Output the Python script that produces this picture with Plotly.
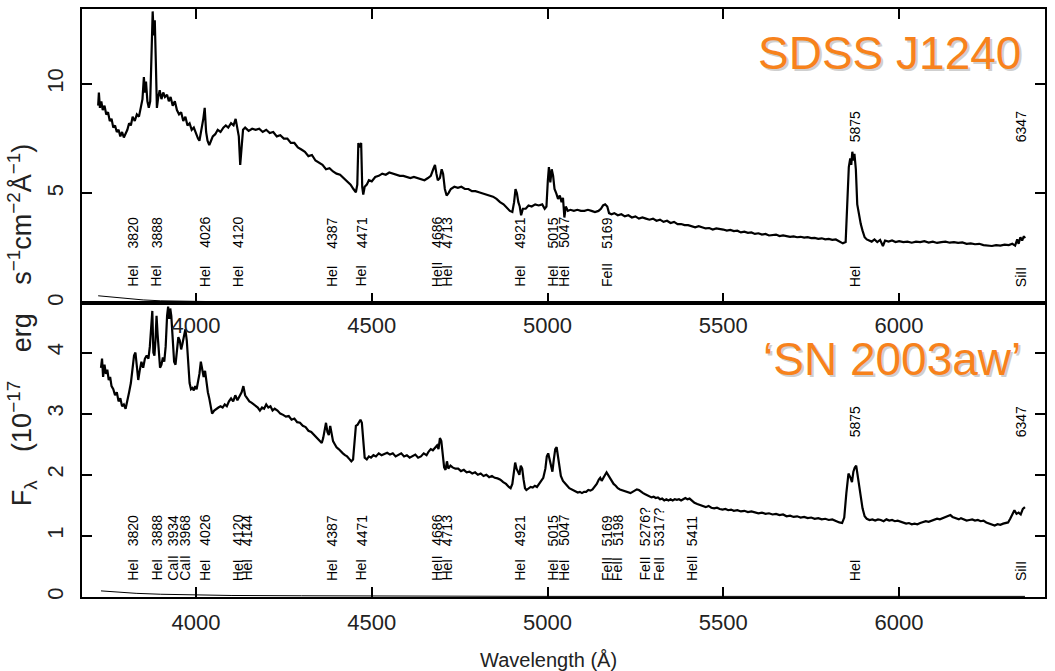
import plotly.graph_objects as go

# ---------------- SDSS J1240 spectrum (upper panel) ----------------
wl_j1240 = [
    3722, 3724, 3727, 3731, 3735, 3740, 3745, 3750, 3755, 3760, 3765, 3770, 3775, 3780, 3785, 3790,
    3795, 3800, 3805, 3810, 3815, 3820, 3826, 3832, 3838, 3843, 3848, 3852, 3855, 3858, 3862, 3866,
    3870, 3874, 3877, 3880, 3883, 3886, 3889, 3893, 3897, 3902, 3907, 3912, 3918, 3923, 3928, 3934,
    3940, 3946, 3952, 3958, 3964, 3970, 3976, 3982, 3988, 3994, 4000, 4006, 4010, 4016, 4021, 4025,
    4029, 4033, 4038, 4043, 4048, 4055, 4062, 4070, 4078, 4085, 4092, 4100, 4107, 4113, 4118, 4122,
    4126, 4130, 4134, 4140, 4150, 4160, 4170, 4180, 4190, 4200, 4210, 4220, 4230, 4240, 4250, 4260,
    4270, 4280, 4290, 4300, 4310, 4320, 4330, 4340, 4350, 4360, 4370, 4380, 4390, 4400, 4410, 4420,
    4430, 4440, 4448, 4455, 4459, 4462, 4466, 4470, 4473, 4476, 4480, 4486, 4492, 4500, 4510, 4520,
    4530, 4540, 4550, 4560, 4570, 4580, 4590, 4600, 4610, 4620, 4630, 4640, 4650, 4660, 4668, 4675,
    4680, 4684, 4688, 4694, 4699, 4703, 4708, 4713, 4718, 4725, 4735, 4745, 4755, 4765, 4775, 4785,
    4795, 4805, 4815, 4825, 4835, 4845, 4855, 4865, 4875, 4885, 4893, 4900, 4905, 4909, 4913, 4917,
    4921, 4925, 4930, 4938, 4946, 4955, 4965, 4975, 4985, 4992, 4997, 5001, 5004, 5008, 5012, 5016,
    5020, 5025, 5030, 5035, 5040, 5044, 5048, 5052, 5058, 5065, 5075, 5085, 5095, 5105, 5115, 5125,
    5135, 5145, 5152, 5158, 5164, 5170, 5175, 5182, 5190, 5200, 5210, 5220, 5230, 5240, 5250, 5260,
    5270, 5280, 5290, 5300, 5310, 5320, 5330, 5340, 5350, 5360, 5370, 5380, 5390, 5400, 5410, 5420,
    5430, 5440, 5450, 5460, 5470, 5480, 5490, 5500, 5510, 5520, 5530, 5540, 5550, 5560, 5570, 5580,
    5590, 5600, 5610, 5620, 5630, 5640, 5650, 5660, 5670, 5680, 5690, 5700, 5710, 5720, 5730, 5740,
    5750, 5760, 5770, 5780, 5790, 5800, 5810, 5820, 5830, 5840, 5848, 5853, 5857, 5861, 5864, 5867,
    5870, 5873, 5877, 5881, 5886, 5891, 5896, 5902, 5908, 5915, 5922, 5930, 5938, 5946, 5954, 5960,
    5970, 5980, 5990, 6000, 6012, 6024, 6036, 6048, 6060, 6072, 6084, 6096, 6108, 6120, 6132, 6144,
    6156, 6168, 6180, 6192, 6204, 6216, 6228, 6240, 6252, 6264, 6276, 6288, 6300, 6312, 6322, 6330,
    6336, 6340, 6345, 6350, 6355, 6358,
]
flux_j1240 = [
    9.0, 9.6, 8.9, 9.2, 8.8, 9.0, 8.6, 8.7, 8.3, 8.4, 8.0, 8.1, 7.8, 7.9, 7.6, 7.8,
    7.55, 7.7, 7.9, 8.2, 8.1, 8.5, 8.3, 8.6, 8.5, 8.9, 9.3, 10.3, 9.6, 10.1, 9.2, 8.9,
    9.2, 11.5, 13.3, 12.2, 12.9, 11.0, 8.9, 9.4, 9.7, 9.3, 9.6, 9.4, 9.5, 9.2, 9.4, 9.0,
    9.2, 8.8, 8.6, 8.7, 8.3, 8.5, 8.1, 8.2, 7.9, 8.0, 7.7, 7.5, 7.4, 7.9, 8.4, 8.9,
    7.8, 7.4, 7.2, 7.4, 7.6, 7.7, 7.9, 7.8, 8.0, 8.1, 8.0, 8.2, 8.1, 8.4, 8.0, 7.6,
    6.3, 7.2, 7.9, 8.0, 7.85, 7.95, 7.9, 7.95, 7.8, 7.9, 7.75, 7.8, 7.6, 7.65, 7.5, 7.5,
    7.3, 7.3, 7.1, 7.0, 6.9, 6.7, 6.75, 6.5, 6.4, 6.3, 6.1, 6.15, 6.0, 5.9, 5.85, 5.7,
    5.55, 5.4, 5.2, 5.05, 5.4, 7.3, 7.1, 7.3, 5.3, 4.95, 5.3, 5.4, 5.6, 5.55, 5.75, 5.8,
    5.9, 5.85, 5.95, 5.9, 5.85, 5.8, 5.8, 5.75, 5.7, 5.75, 5.7, 5.65, 5.6, 5.7, 5.8, 6.1,
    6.3, 5.9, 5.6, 5.7, 6.1, 5.9, 5.2, 4.9, 5.0, 5.2, 5.3, 5.25, 5.3, 5.2, 5.2, 5.1,
    5.1, 5.05, 5.0, 4.95, 4.9, 4.85, 4.75, 4.6, 4.5, 4.35, 4.2, 4.15, 4.6, 5.2, 5.0, 4.6,
    4.4, 4.0, 4.3, 4.3, 4.45, 4.4, 4.5, 4.45, 4.5, 4.3, 4.4, 5.6, 6.2, 5.5, 6.1, 5.8,
    5.2, 5.0, 4.75, 4.9, 4.6, 4.8, 3.9, 4.4, 4.2, 4.25, 4.2, 4.25, 4.2, 4.2, 4.25, 4.2,
    4.15, 4.2, 4.3, 4.45, 4.5, 4.4, 4.1, 4.05, 4.1, 4.0, 4.05, 3.95, 4.0, 3.9, 3.95, 3.85,
    3.9, 3.85, 3.8, 3.85, 3.75, 3.8, 3.7, 3.75, 3.65, 3.7, 3.6, 3.6, 3.55, 3.55, 3.5, 3.45,
    3.5, 3.45, 3.4, 3.42, 3.35, 3.4, 3.38, 3.35, 3.3, 3.33, 3.28, 3.3, 3.22, 3.25, 3.2, 3.22,
    3.15, 3.18, 3.12, 3.15, 3.08, 3.1, 3.12, 3.05, 3.08, 3.05, 3.02, 3.04, 3.0, 3.02, 2.98, 3.0,
    2.96, 2.97, 2.93, 2.95, 2.9, 2.92, 2.88, 2.9, 2.8, 2.72, 2.78, 4.5, 6.2, 6.6, 6.3, 6.9,
    6.5, 6.8, 6.1, 4.5, 4.0, 3.6, 3.3, 3.0, 2.9, 2.85, 2.8, 2.9, 2.78, 2.88, 2.6, 2.85,
    2.8, 2.85, 2.78, 2.82, 2.78, 2.8, 2.75, 2.8, 2.78, 2.82, 2.76, 2.8, 2.74, 2.78, 2.8, 2.75,
    2.78, 2.74, 2.76, 2.7, 2.72, 2.68, 2.7, 2.64, 2.62, 2.6, 2.64, 2.62, 2.66, 2.64, 2.7, 2.62,
    2.9, 2.7, 3.0, 2.85, 3.05, 2.95,
]
err_wl_j1240 = [3722, 3760, 3800, 3850, 3900, 3950, 4000, 4100, 4300, 4500, 5000, 6358]
err_j1240 = [0.33, 0.27, 0.2, 0.14, 0.1, 0.08, 0.06, 0.05, 0.04, 0.04, 0.03, 0.03]

# ---------------- 'SN 2003aw' spectrum (lower panel) ----------------
wl_sn = [
    3730, 3733, 3736, 3740, 3744, 3748, 3752, 3756, 3760, 3765, 3770, 3775, 3780, 3785, 3790, 3795,
    3800, 3805, 3810, 3815, 3820, 3824, 3828, 3832, 3836, 3840, 3845, 3850, 3855, 3860, 3865, 3869,
    3873, 3876, 3879, 3882, 3885, 3888, 3891, 3894, 3898, 3902, 3906, 3910, 3914, 3918, 3921, 3924,
    3927, 3930, 3934, 3938, 3942, 3946, 3950, 3954, 3958, 3962, 3966, 3970, 3974, 3978, 3982, 3986,
    3990, 3994, 3998, 4002, 4006, 4010, 4014, 4018, 4022, 4026, 4030, 4034, 4038, 4042, 4046, 4052,
    4058, 4064, 4070, 4076, 4082, 4088, 4094, 4100, 4106, 4112, 4118, 4124, 4130, 4135, 4140, 4146,
    4152, 4158, 4164, 4170, 4176, 4182, 4188, 4194, 4200, 4206, 4212, 4218, 4224, 4232, 4240, 4248,
    4256, 4264, 4272, 4280, 4288, 4296, 4304, 4312, 4320, 4328, 4336, 4344, 4352, 4358, 4362, 4366,
    4370, 4374, 4378, 4382, 4386, 4390, 4395, 4400, 4406, 4412, 4418, 4424, 4430, 4436, 4442, 4447,
    4451, 4455, 4460, 4464, 4468, 4472, 4476, 4480, 4486, 4492, 4498, 4505, 4512, 4520, 4528, 4536,
    4544, 4552, 4560, 4568, 4576, 4584, 4592, 4600, 4608, 4616, 4624, 4632, 4640, 4648, 4656, 4662,
    4668, 4674, 4680, 4686, 4690, 4694, 4698, 4702, 4706, 4710, 4714, 4718, 4724, 4730, 4738, 4746,
    4754, 4762, 4770, 4778, 4786, 4794, 4802, 4810, 4818, 4826, 4834, 4842, 4850, 4858, 4866, 4874,
    4882, 4890, 4895, 4900, 4904, 4908, 4912, 4916, 4920, 4924, 4928, 4932, 4936, 4940, 4946, 4952,
    4958, 4964, 4970, 4976, 4982, 4988, 4994, 4998, 5002, 5006, 5010, 5014, 5018, 5022, 5026, 5030,
    5034, 5038, 5044, 5050, 5056, 5062, 5068, 5074, 5080, 5086, 5092, 5098, 5104, 5110, 5116, 5122,
    5128, 5134, 5140, 5146, 5150, 5154, 5158, 5164, 5168, 5172, 5176, 5182, 5188, 5194, 5200, 5206,
    5212, 5218, 5224, 5230, 5236, 5242, 5248, 5254, 5260, 5266, 5272, 5278, 5284, 5290, 5296, 5302,
    5308, 5314, 5320, 5326, 5332, 5338, 5344, 5350, 5356, 5362, 5368, 5374, 5380, 5386, 5392, 5398,
    5404, 5410, 5418, 5426, 5434, 5442, 5450, 5458, 5466, 5474, 5482, 5490, 5498, 5506, 5514, 5522,
    5530, 5540, 5550, 5560, 5570, 5580, 5590, 5600, 5610, 5620, 5630, 5640, 5650, 5660, 5670, 5680,
    5690, 5700, 5710, 5720, 5730, 5740, 5750, 5760, 5770, 5780, 5790, 5800, 5810, 5820, 5830, 5838,
    5844, 5850, 5856, 5862, 5866, 5870, 5874, 5878, 5882, 5886, 5890, 5896, 5902, 5908, 5916, 5924,
    5932, 5940, 5948, 5956, 5964, 5972, 5980, 5988, 5996, 6004, 6012, 6020, 6028, 6036, 6044, 6052,
    6060, 6068, 6076, 6084, 6092, 6100, 6108, 6116, 6124, 6132, 6140, 6146, 6152, 6158, 6164, 6170,
    6176, 6184, 6192, 6200, 6208, 6216, 6224, 6232, 6240, 6248, 6256, 6264, 6272, 6280, 6288, 6296,
    6304, 6310, 6316, 6322, 6328, 6334, 6340, 6346, 6352, 6358,
]
flux_sn = [
    3.75, 3.9, 3.6, 3.8, 3.65, 3.72, 3.55, 3.6, 3.45, 3.4, 3.3, 3.35, 3.2, 3.25, 3.12, 3.15,
    3.08, 3.2, 3.35, 3.5, 3.75, 3.95, 4.0, 3.7, 3.55, 3.7, 3.85, 3.75, 3.9, 3.95, 3.9, 4.1,
    4.55, 4.68, 4.0, 3.95, 4.2, 4.6, 4.3, 4.0, 3.75, 3.8, 3.92, 3.85, 4.1, 4.6, 4.75, 4.55,
    4.72, 4.6, 4.2, 3.85, 3.8, 4.0, 4.25, 4.2, 4.05, 4.15, 4.3, 4.38, 4.2, 3.8, 3.5, 3.4,
    3.42, 3.38, 3.45, 3.4, 3.5, 3.65, 3.85, 3.7, 3.6, 3.7, 3.5, 3.35, 3.25, 3.1, 3.0, 3.05,
    3.08, 3.1, 3.12, 3.1, 3.15, 3.12, 3.2, 3.25, 3.2, 3.3, 3.22, 3.3, 3.35, 3.45, 3.3, 3.25,
    3.2, 3.18, 3.15, 3.12, 3.1, 3.05, 3.1, 3.08, 3.15, 3.1, 3.12, 3.05, 3.08, 3.05, 3.0, 2.98,
    2.95, 2.96, 2.9, 2.92, 2.86, 2.85, 2.8, 2.78, 2.72, 2.7, 2.65, 2.6, 2.55, 2.52, 2.6, 2.75,
    2.85, 2.7, 2.65, 2.8, 2.7, 2.55, 2.5, 2.45, 2.42, 2.38, 2.35, 2.32, 2.3, 2.26, 2.22, 2.25,
    2.55, 2.8, 2.82, 2.85, 2.9, 2.85, 2.5, 2.28, 2.25, 2.3, 2.28, 2.32, 2.3, 2.35, 2.32, 2.34,
    2.36, 2.33, 2.35, 2.3, 2.32, 2.35, 2.3, 2.32, 2.28, 2.3, 2.33, 2.28, 2.3, 2.35, 2.32, 2.38,
    2.42, 2.4, 2.45, 2.48, 2.42, 2.6, 2.55, 2.35, 2.12, 2.08, 2.22, 2.1, 2.15, 2.12, 2.1, 2.1,
    2.06, 2.08, 2.04, 2.05, 2.02, 2.04, 2.0, 2.02, 1.98, 2.0, 1.96, 1.98, 1.95, 1.94, 1.92, 1.88,
    1.85, 1.8, 1.78, 1.85, 2.05, 2.2, 2.1, 2.05, 2.0, 2.15, 2.1, 1.92, 1.78, 1.75, 1.78, 1.8,
    1.79, 1.82, 1.8, 1.85, 1.88, 1.95, 2.1, 2.3, 2.35, 2.25, 2.1, 2.05, 2.25, 2.42, 2.45, 2.3,
    2.1, 1.98, 1.9, 1.85, 1.82, 1.78, 1.76, 1.74, 1.72, 1.71, 1.72, 1.7, 1.72, 1.72, 1.75, 1.74,
    1.76, 1.8, 1.85, 1.92, 1.95, 1.9, 1.95, 2.0, 2.04, 2.0, 1.95, 1.9, 1.85, 1.82, 1.78, 1.76,
    1.75, 1.73, 1.72, 1.71, 1.7, 1.72, 1.74, 1.76, 1.75, 1.72, 1.7, 1.68, 1.66, 1.65, 1.63, 1.64,
    1.62, 1.63, 1.6, 1.61, 1.58, 1.6, 1.58, 1.6, 1.58, 1.6, 1.59, 1.6, 1.58, 1.6, 1.62, 1.6,
    1.61, 1.58, 1.54, 1.52, 1.5, 1.48, 1.47, 1.49, 1.46, 1.45, 1.46, 1.44, 1.43, 1.44, 1.42, 1.43,
    1.41, 1.42, 1.4, 1.41, 1.39, 1.4, 1.38, 1.37, 1.38, 1.36, 1.37, 1.35, 1.36, 1.34, 1.35, 1.32,
    1.33, 1.31, 1.32, 1.3, 1.31, 1.29, 1.3, 1.28, 1.29, 1.27, 1.28, 1.26, 1.27, 1.24, 1.22, 1.21,
    1.3, 1.7, 2.02, 1.95, 1.88, 2.05, 2.12, 2.15, 2.0, 1.8, 1.62, 1.45, 1.32, 1.28, 1.26, 1.27,
    1.25, 1.27, 1.26, 1.24, 1.27, 1.25, 1.26, 1.24, 1.25, 1.23, 1.22, 1.2, 1.21, 1.19, 1.2, 1.19,
    1.21, 1.22, 1.24, 1.23, 1.25, 1.26, 1.28, 1.27, 1.29, 1.3, 1.32, 1.34, 1.31, 1.3, 1.28, 1.27,
    1.29, 1.27, 1.25, 1.26, 1.27, 1.25, 1.26, 1.24, 1.25, 1.22, 1.2, 1.18, 1.17, 1.19, 1.18, 1.2,
    1.21, 1.22, 1.28, 1.35, 1.42, 1.36, 1.38, 1.35, 1.44, 1.47,
]
err_wl_sn = [3730, 3780, 3830, 3900, 3980, 4100, 4300, 4500, 5000, 6358]
err_sn = [0.1, 0.08, 0.06, 0.045, 0.035, 0.025, 0.02, 0.015, 0.01, 0.01]

# ---------------- line identifications ----------------
top_line_wl = [3820, 3888, 4026, 4120, 4387, 4471, 4686, 4713, 4921, 5015, 5047, 5169]
top_line_ion = ["HeI", "HeI", "HeI", "HeI", "HeI", "HeI", "HeII", "HeI", "HeI", "HeI", "HeI", "FeII"]
top_line_txt = ["3820", "3888", "4026", "4120", "4387", "4471", "4686", "4713", "4921", "5015", "5047", "5169"]

bot_line_wl = [3820, 3888, 3934, 3968, 4026, 4120, 4144, 4387, 4471, 4686, 4713, 4921, 5015, 5047,
               5169, 5198, 5276, 5317, 5411]
bot_line_ion = ["HeI", "HeI", "CaII", "CaII", "HeI", "HeI", "HeI", "HeI", "HeI", "HeII", "HeI", "HeI",
                "HeI", "HeI", "FeII", "FeII", "FeII", "FeII", "HeII"]
bot_line_txt = ["3820", "3888", "3934", "3968", "4026", "4120", "4144", "4387", "4471", "4686", "4713",
                "4921", "5015", "5047", "5169", "5198", "5276?", "5317?", "5411"]

# lines whose wavelength is written high above the ion name
far_line_wl = [5875, 6347]
far_line_ion = ["HeI", "SiII"]
far_line_txt = ["5875", "6347"]

x_ticks = [4000, 4500, 5000, 5500, 6000]
top_y_ticks = [0, 5, 10]
bot_y_ticks = [0, 1, 2, 3, 4]

X_RANGE = [3676, 6415]
TOP_RANGE = [0, 13.41]
BOT_RANGE = [0, 4.81]

FONT = "Liberation Sans, Arial, Helvetica, sans-serif"
ORANGE = "#F7821C"

fig = go.Figure()
fig.add_trace(go.Scatter(x=wl_j1240, y=flux_j1240, xaxis="x2", yaxis="y2", mode="lines",
                         line=dict(color="black", width=2.2), showlegend=False))
fig.add_trace(go.Scatter(x=err_wl_j1240, y=err_j1240, xaxis="x2", yaxis="y2", mode="lines",
                         line=dict(color="black", width=1), showlegend=False))
fig.add_trace(go.Scatter(x=wl_sn, y=flux_sn, xaxis="x", yaxis="y", mode="lines",
                         line=dict(color="black", width=2.2), showlegend=False))
fig.add_trace(go.Scatter(x=err_wl_sn, y=err_sn, xaxis="x", yaxis="y", mode="lines",
                         line=dict(color="black", width=1), showlegend=False))

annotations = []


def line_label(x, y, text, yref):
    annotations.append(dict(x=x, y=y, xref="x", yref=yref, text=text, showarrow=False,
                            textangle=-90, xanchor="center", yanchor="bottom",
                            font=dict(family=FONT, size=14, color="black"), borderpad=0))


# upper panel labels (ion name low, wavelength above it)
for wl, ion, txt in zip(top_line_wl, top_line_ion, top_line_txt):
    line_label(wl, 0.68, ion, "y2")
    line_label(wl, 2.45, txt, "y2")
for wl, ion, txt in zip(far_line_wl, far_line_ion, far_line_txt):
    line_label(wl, 0.68, ion, "y2")
    line_label(wl, 7.27, txt, "y2")

# lower panel labels
for wl, ion, txt in zip(bot_line_wl, bot_line_ion, bot_line_txt):
    line_label(wl, 0.245, ion, "y")
    line_label(wl, 0.816, txt, "y")
for wl, ion, txt in zip(far_line_wl, far_line_ion, far_line_txt):
    line_label(wl, 0.245, ion, "y")
    line_label(wl, 2.59, txt, "y")

# object names with a soft grey drop shadow
for name, ypos in [("SDSS J1240", 0.878), ("\u2018SN 2003aw\u2019", 0.357)]:
    annotations.append(dict(x=0.977, y=ypos, xref="paper", yref="paper", text=name, showarrow=False,
                            xanchor="right", yanchor="bottom", xshift=2, yshift=-2,
                            font=dict(family=FONT, size=46, color="#CFCFCF")))
    annotations.append(dict(x=0.977, y=ypos, xref="paper", yref="paper", text=name, showarrow=False,
                            xanchor="right", yanchor="bottom",
                            font=dict(family=FONT, size=46, color=ORANGE)))

# axis titles
GAP = " \u2002 "
y_title = ("F<sub>\u03bb</sub>" + GAP + "(10<sup>\u221217</sup>" + GAP + "erg" + GAP +
           "s<sup>\u22121</sup>cm<sup>\u22122</sup>\u00c5<sup>\u22121</sup>)")
annotations.append(dict(x=-0.0623, y=0.462, xref="paper", yref="paper", textangle=-90,
                        text=y_title, showarrow=False, xanchor="center", yanchor="middle",
                        font=dict(family=FONT, size=27, color="#222")))
annotations.append(dict(x=0.484, y=-0.107, xref="paper", yref="paper", text="Wavelength (\u00c5)",
                        showarrow=False, xanchor="center", yanchor="middle",
                        font=dict(family=FONT, size=20, color="#222")))

axis_common = dict(showline=True, linewidth=2, linecolor="black", showgrid=False, zeroline=False,
                   ticks="inside", ticklen=10, tickwidth=1.5, tickcolor="black",
                   tickfont=dict(family=FONT, size=22, color="#222"))

fig.update_layout(
    width=1055, height=671,
    margin=dict(l=82, r=10, t=7, b=74),
    paper_bgcolor="white", plot_bgcolor="white",
    showlegend=False,
    xaxis=dict(domain=[0, 1], anchor="y", range=X_RANGE, tickvals=x_ticks, mirror=True,
               ticklabelstandoff=5, **axis_common),
    xaxis2=dict(domain=[0, 1], anchor="y2", range=X_RANGE, tickvals=x_ticks, mirror="ticks",
                ticklabelstandoff=2, matches="x", **axis_common),
    yaxis=dict(domain=[0, 0.5], anchor="x", range=BOT_RANGE, tickvals=bot_y_ticks, mirror="ticks",
               tickangle=-90, ticklabelstandoff=8, **axis_common),
    yaxis2=dict(domain=[0.5, 1], anchor="x2", range=TOP_RANGE, tickvals=top_y_ticks, mirror="ticks",
                tickangle=-90, ticklabelstandoff=8, **axis_common),
    annotations=annotations,
)

fig.write_html("out.html")
